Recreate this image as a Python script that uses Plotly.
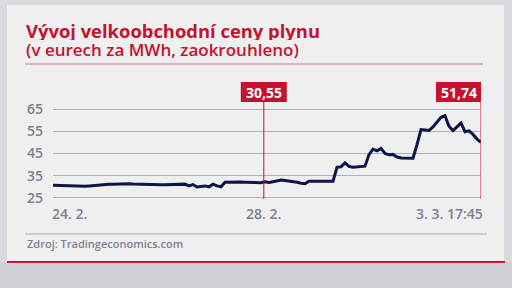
import plotly.graph_objects as go

# ---- data ----
values = [
    30.7, 30.6, 30.5, 30.4, 30.3, 30.2, 30.1, 30.1, 30.2, 30.4,
    30.6, 30.8, 30.9, 31.0, 31.1, 31.2, 31.3, 31.3, 31.4, 31.4,
    31.3, 31.2, 31.1, 31.0, 31.0, 30.9, 30.9, 30.9, 30.9, 30.9,
    30.9, 31.0, 31.1, 31.2, 30.4, 31.0, 29.9, 30.1, 30.4, 30.0,
    31.2, 30.4, 30.0, 32.0, 32.1, 32.2, 32.2, 32.2, 32.1, 32.0,
    31.9, 31.8, 31.8, 32.3, 31.9, 32.3, 32.7, 33.0, 32.8, 32.6,
    32.3, 32.0, 31.6, 31.4, 32.5, 32.6, 32.6, 32.5, 32.5, 32.5,
    32.5, 38.8, 39.0, 40.8, 39.2, 38.8, 39.0, 39.1, 39.3, 44.5,
    47.0, 46.2, 47.3, 45.0, 44.4, 44.6, 43.4, 43.0, 42.9, 42.9,
    42.9, 49.0, 55.8, 55.6, 55.4, 57.0, 59.0, 61.3, 62.0, 57.3,
    55.3, 57.0, 58.7, 54.8, 55.2, 53.6, 51.5, 50.0,
]
x_idx = list(range(len(values)))

tick_labels = ["24. 2.", "28. 2.", "3. 3. 17:45"]
tick_pos = [0, 52.7, 107]

y_ticks = [25, 35, 45, 55, 65]

flag_labels = ["30,55", "51,74"]
flag_pos = [52.7, 107]

title_line1 = "Vývoj velkoobchodní ceny plynu"
title_line2 = "(v eurech za MWh, zaokrouhleno)"
source_text = "Zdroj: Tradingeconomics.com"

# ---- layout geometry (pixels) ----
W, H = 512, 288
L, R, T, B = 53, 31, 108, 89
PW = W - L - R
PH = H - T - B


def px(x):
    return (x - L) / PW


def py(y):
    return (H - B - y) / PH


RED = "#c4122f"
GRAY_TXT = "#7c8092"
NAVY = "#0e1546"

fig = go.Figure()
fig.add_trace(go.Scatter(
    x=x_idx, y=values, mode="lines",
    line=dict(color=NAVY, width=3, shape="linear"),
    hoverinfo="skip", showlegend=False,
))

shapes = []
# backdrop panel
shapes.append(dict(type="rect", xref="paper", yref="paper",
                   x0=px(7), x1=px(504), y0=py(262), y1=py(5),
                   fillcolor="#efeff0", line=dict(width=0), layer="below"))
# bottom darker strip
shapes.append(dict(type="rect", xref="paper", yref="paper",
                   x0=px(0), x1=px(512), y0=py(288), y1=py(262),
                   fillcolor="#d0d1d6", line=dict(width=0), layer="below"))
# title underline
shapes.append(dict(type="line", xref="paper", yref="paper",
                   x0=px(25), x1=px(483), y0=py(64), y1=py(64),
                   line=dict(color="#d9707e", width=1), layer="below"))
# footer gray line
shapes.append(dict(type="line", xref="paper", yref="paper",
                   x0=px(25), x1=px(487), y0=py(234), y1=py(234),
                   line=dict(color="#a6a9b3", width=1), layer="below"))
# bottom red line
shapes.append(dict(type="line", xref="paper", yref="paper",
                   x0=px(7), x1=px(505), y0=py(262), y1=py(262),
                   line=dict(color="#d0142f", width=2), layer="above"))

# flag lines & boxes
box_top, box_bot = py(82), py(102)
for i, (lab, pos) in enumerate(zip(flag_labels, flag_pos)):
    shapes.append(dict(type="line", xref="x", yref="paper",
                       x0=pos, x1=pos, y0=0, y1=box_bot,
                       line=dict(color=RED, width=1), layer="above"))
    if i == len(flag_labels) - 1:
        bx0, bx1 = -45, 1
    else:
        bx0, bx1 = -23, 23
    shapes.append(dict(type="rect", xref="x", yref="paper",
                       xsizemode="pixel", xanchor=pos, x0=bx0, x1=bx1,
                       y0=box_bot, y1=box_top,
                       fillcolor=RED, line=dict(width=0), layer="above"))

annotations = []
annotations.append(dict(text="<b>" + title_line1 + "</b>", xref="paper", yref="paper",
                        x=px(24), y=py(31), xanchor="left", yanchor="middle",
                        height=19, valign="middle",
                        showarrow=False,
                        font=dict(family="Open Sans", size=18.4, color=RED)))
annotations.append(dict(text=title_line2, xref="paper", yref="paper",
                        x=px(24), y=py(49), xanchor="left", yanchor="middle",
                        height=19, valign="middle",
                        showarrow=False,
                        font=dict(family="Open Sans", size=17, color=RED, weight=600)))
annotations.append(dict(text=source_text, xref="paper", yref="paper",
                        x=px(25), y=py(243), xanchor="left", yanchor="middle",
                        showarrow=False,
                        font=dict(family="Open Sans", size=11, color=GRAY_TXT, weight=600)))

# x labels
anchors = ["left", "center", "right"]
shifts = [-3, 0, 4]
for lab, pos, anc, sh in zip(tick_labels, tick_pos, anchors, shifts):
    annotations.append(dict(text=lab, xref="x", yref="paper", x=pos, y=py(213),
                            xanchor=anc, yanchor="middle", xshift=sh, showarrow=False,
                            font=dict(family="Open Sans", size=14, color=GRAY_TXT, weight=600)))

# flag texts
for i, (lab, pos) in enumerate(zip(flag_labels, flag_pos)):
    xs = -22 if i == len(flag_labels) - 1 else 0
    annotations.append(dict(text="<b>" + lab + "</b>", xref="x", yref="paper",
                            x=pos, y=py(92), xanchor="center", yanchor="middle",
                            xshift=xs, showarrow=False,
                            font=dict(family="Open Sans", size=14, color="white")))

fig.update_layout(
    width=W, height=H,
    margin=dict(l=L, r=R, t=T, b=B, pad=0),
    paper_bgcolor="#d9dadf",
    plot_bgcolor="rgba(0,0,0,0)",
    shapes=shapes,
    annotations=annotations,
    xaxis=dict(range=[0, 107], showgrid=False, zeroline=False, showline=False,
               showticklabels=False, fixedrange=True),
    yaxis=dict(range=[24.5, 65.5], tickvals=y_ticks, ticktext=[str(v) for v in y_ticks],
               showgrid=True, gridcolor="#aeb1bb", gridwidth=1,
               zeroline=False, showline=False, ticks="",
               ticklabelstandoff=9,
               tickfont=dict(family="Open Sans", size=14, color=GRAY_TXT, weight=600)),
)

fig.write_html("out.html")
